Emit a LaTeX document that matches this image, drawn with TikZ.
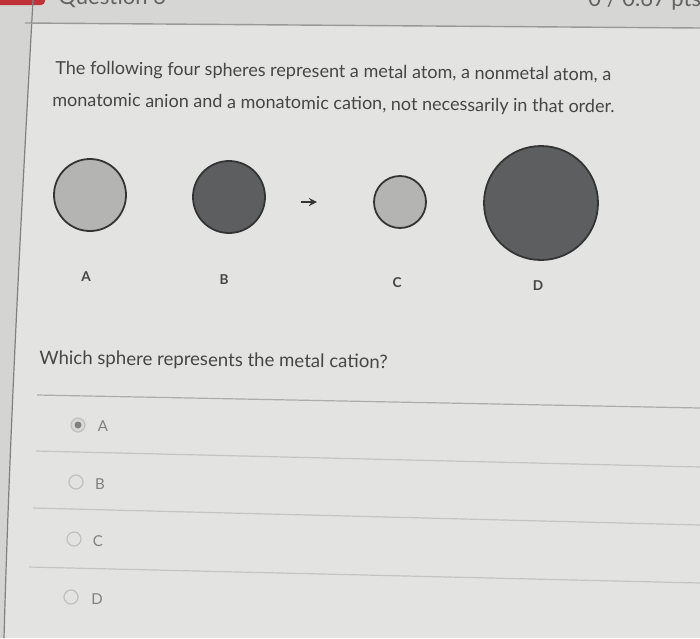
\documentclass[tikz,border=0pt]{standalone}
\usepackage{fontspec}
\setmainfont{Lato}
\usetikzlibrary{calc}

\definecolor{pagebg}{RGB}{227,227,225}
\definecolor{headbg}{RGB}{214,214,212}
\definecolor{sidebg}{RGB}{212,212,210}
\definecolor{rulegray}{RGB}{172,172,170}
\definecolor{optrule}{RGB}{196,196,194}
\definecolor{textgray}{RGB}{70,70,70}
\definecolor{lightball}{RGB}{180,180,178}
\definecolor{darkball}{RGB}{92,94,96}
\definecolor{ballrim}{RGB}{52,52,52}
\definecolor{optgray}{RGB}{128,128,128}
\definecolor{radiorim}{RGB}{192,192,190}
\definecolor{tabred}{RGB}{192,50,56}

\begin{document}
\begin{tikzpicture}[x=0.5pt, y=-0.5pt,
  ball/.style={circle, draw=ballrim, line width=0.9pt, inner sep=0pt},
  balllabel/.style={text=textgray, font=\fontsize{6.8pt}{7pt}\selectfont\bfseries},
  bodytext/.style={anchor=base west, text=textgray, inner sep=0pt, rotate=-0.7,
    font=\fontsize{9pt}{10pt}\selectfont},
  radio/.style={circle, draw=radiorim, line width=0.6pt, minimum size=7pt, inner sep=0pt},
  optlabel/.style={text=optgray, inner sep=0pt, font=\fontsize{7.5pt}{8pt}\selectfont}]
\useasboundingbox (0,0) rectangle (700,638);
\clip (0,0) rectangle (700,638);

% page and header
\fill [pagebg] (0,0) rectangle (700,638);
\fill [headbg] (0,0) -- (700,0) -- (700,28) -- (25,23) -- cycle;
\fill [sidebg] (0,0) -- (33,0) .. controls (22,200) and (10,420) .. (4,638) -- (0,638) -- cycle;
\fill [tabred, rounded corners=2pt] (-10,-10) rectangle (45,5);
\draw [gray, line width=0.6pt] (33,0) .. controls (22,200) and (10,420) .. (4,638);
\draw [gray!80, line width=0.7pt] (25,23) -- (700,28);
\node [anchor=base west, text=textgray!85, inner sep=0pt, font=\fontsize{11pt}{12pt}\selectfont] (qtitle) at (58,4) {Question 6};
\node [anchor=base west, text=textgray!85, inner sep=0pt, font=\fontsize{11pt}{12pt}\selectfont] (qpts) at (588,6) {0 / 0.67 pts};

% question text
\node [bodytext] (line1) at (55,74) {The following four spheres represent a metal atom, a nonmetal atom, a};
\node [bodytext] (line2) at (52,106) {monatomic anion and a monatomic cation, not necessarily in that order.};

% spheres
\node [ball, fill=lightball, minimum size=36pt] (sA) at (90,195) {};
\node [ball, fill=darkball, minimum size=36pt] (sB) at (229,197) {};
\node [ball, fill=lightball, minimum size=26pt] (sC) at (400,202) {};
\node [ball, fill=darkball, minimum size=57pt] (sD) at (541,203) {};
\coordinate (arrL) at (301,202);
\coordinate (arrR) at (317,202);
\draw [->, >=stealth, line width=0.8pt, ballrim] (arrL) -- (arrR);

\node [balllabel] (lA) at (86,277) {A};
\node [balllabel] (lB) at (224,280) {B};
\node [balllabel] (lC) at (397,283) {C};
\node [balllabel] (lD) at (538,286) {D};

% question
\node [bodytext, font=\fontsize{9.3pt}{10pt}\selectfont] (ask) at (39,364) {Which sphere represents the metal cation?};
\draw [rulegray, line width=0.6pt] (37,395) -- (700,408);

% options
\node [radio, fill=radiorim!60] (rA) at (78,425) {};
\fill [optgray] (rA) circle (3.5);
\node [optlabel] (oA) at (103,426) {A};
\draw [optrule, line width=0.6pt] (36,451) -- (700,467);
\node [radio] (rB) at (76,482) {};
\node [optlabel] (oB) at (100,484) {B};
\draw [optrule, line width=0.6pt] (33,508) -- (700,525);
\node [radio] (rC) at (74,539) {};
\node [optlabel] (oC) at (98,541) {C};
\draw [optrule, line width=0.6pt] (29,567) -- (700,583);
\node [radio] (rD) at (71,597) {};
\node [optlabel] (oD) at (97,599) {D};
\end{tikzpicture}
\end{document}
